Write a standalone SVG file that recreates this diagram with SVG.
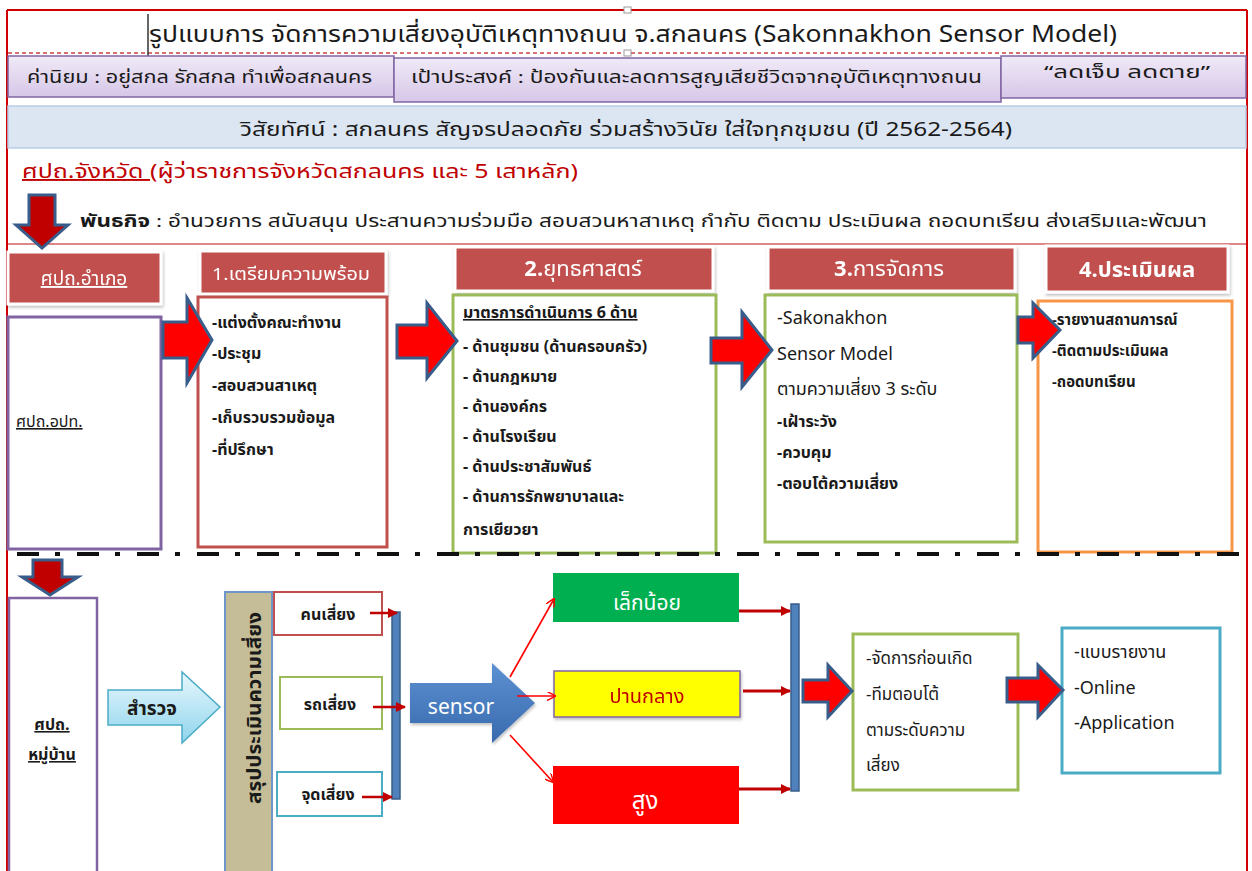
<svg xmlns="http://www.w3.org/2000/svg" width="1252" height="871" viewBox="0 0 1252 871">
<defs>
<style>
text{font-family:"Noto Sans Thai","Noto Sans","DejaVu Sans","Liberation Sans",sans-serif;fill:#1a1a1a}
.hdr{fill:#c0504d;stroke:#fff;stroke-width:3}
.ht{fill:#fff;text-anchor:middle}
.fat{fill:#ff0000;stroke:#385d8a;stroke-width:3;stroke-linejoin:miter}
.down{fill:#c00000;stroke:#385d8a;stroke-width:3}
.t16{font-size:16px}
.t17{font-size:17px}
.t18{font-size:18px}
.thin{stroke:#ff0000;stroke-width:1.6;fill:none}
.mid{stroke:#c00000;stroke-width:3;fill:none}
.bar{fill:#4f81bd;stroke:#385d8a;stroke-width:1.5}
</style>
<linearGradient id="purp" x1="0" y1="0" x2="0" y2="1"><stop offset="0" stop-color="#f0eaf7"/><stop offset="1" stop-color="#d6c6e8"/></linearGradient>
<linearGradient id="sky" x1="0" y1="0" x2="0" y2="1"><stop offset="0" stop-color="#e8f8fd"/><stop offset="1" stop-color="#8fd4ec"/></linearGradient>
<linearGradient id="blu" x1="0" y1="0" x2="0" y2="1"><stop offset="0" stop-color="#5d91d2"/><stop offset="1" stop-color="#386aae"/></linearGradient>
<filter id="sh" x="-10%" y="-10%" width="130%" height="140%"><feDropShadow dx="1" dy="2" stdDeviation="1.5" flood-color="#000" flood-opacity="0.25"/></filter>
<marker id="vh" viewBox="0 0 10 10" refX="9" refY="5" markerWidth="9" markerHeight="9" orient="auto" markerUnits="userSpaceOnUse"><path d="M0,0 L10,5 L0,10" fill="none" stroke="#ff0000" stroke-width="1.6"/></marker>
<marker id="th" viewBox="0 0 10 10" refX="9" refY="5" markerWidth="11" markerHeight="10" orient="auto" markerUnits="userSpaceOnUse"><path d="M0,0 L10,5 L0,10 Z" fill="#c00000"/></marker>
</defs>
<rect width="1252" height="871" fill="#fff"/>

<!-- outer frame -->
<g id="frame">
<line x1="7" y1="10" x2="1247" y2="10" stroke="#d00000" stroke-width="2"/>
<line x1="7" y1="10" x2="7" y2="871" stroke="#d00000" stroke-width="2"/>
<line x1="1247" y1="10" x2="1247" y2="871" stroke="#d00000" stroke-width="2"/>
<line x1="8" y1="244" x2="1246" y2="244" stroke="#d06060" stroke-width="1.5"/>
</g>

<g id="title">
<rect x="8" y="12" width="1238" height="41" fill="#fff"/>
<line x1="8" y1="53" x2="1246" y2="53" stroke="#d04040" stroke-width="1.5" stroke-dasharray="4 3"/>
<line x1="148" y1="14" x2="148" y2="58" stroke="#333" stroke-width="1.5"/>
<rect x="624" y="7" width="7" height="6" fill="#fff" stroke="#999"/>
<rect x="624" y="50" width="7" height="6" fill="#fff" stroke="#999"/>
<text x="149" y="42" font-size="23" textLength="968" lengthAdjust="spacingAndGlyphs">รูปแบบการ จัดการความเสี่ยงอุบัติเหตุทางถนน จ.สกลนคร (Sakonnakhon Sensor Model)</text>
</g>

<g id="values">
<rect x="8" y="56" width="386" height="41" fill="url(#purp)" stroke="#8064a2" stroke-width="1.5"/>
<text x="27" y="83" class="t17" textLength="345" lengthAdjust="spacingAndGlyphs" fill="#333">ค่านิยม : อยู่สกล รักสกล ทำเพื่อสกลนคร</text>
</g>
<g id="goal">
<rect x="394" y="58" width="607" height="44" fill="url(#purp)" stroke="#8064a2" stroke-width="1.5"/>
<text x="411" y="83" class="t17" textLength="571" lengthAdjust="spacingAndGlyphs" fill="#333">เป้าประสงค์ : ป้องกันและลดการสูญเสียชีวิตจากอุบัติเหตุทางถนน</text>
</g>
<g id="slogan">
<rect x="1001" y="56" width="245" height="42" fill="url(#purp)" stroke="#8064a2" stroke-width="1.5"/>
<text x="1127" y="78" class="t17" text-anchor="middle" textLength="166" lengthAdjust="spacingAndGlyphs" fill="#333">“ลดเจ็บ ลดตาย”</text>
</g>
<g id="vision">
<rect x="8" y="106" width="1238" height="42" fill="#dce6f2" stroke="#b9cde5" stroke-width="1.5"/>
<text x="240" y="136" font-size="19" textLength="772" lengthAdjust="spacingAndGlyphs" fill="#333">วิสัยทัศน์ : สกลนคร สัญจรปลอดภัย ร่วมสร้างวินัย ใส่ใจทุกชุมชน (ปี 2562-2564)</text>
</g>
<g id="province">
<text x="22" y="178" font-size="19" textLength="556" lengthAdjust="spacingAndGlyphs" fill="#c00000"><tspan text-decoration="underline" fill="#c00000">ศปถ.จังหวัด </tspan><tspan fill="#c00000">(ผู้ว่าราชการจังหวัดสกลนคร และ 5 เสาหลัก)</tspan></text>
</g>
<g id="mission">
<text x="80" y="227" class="t17" textLength="1127" lengthAdjust="spacingAndGlyphs"><tspan font-weight="bold">พันธกิจ</tspan> : อำนวยการ สนับสนุน ประสานความร่วมมือ สอบสวนหาสาเหตุ กำกับ ติดตาม ประเมินผล ถอดบทเรียน ส่งเสริมและพัฒนา</text>
</g>

<!-- column headers -->
<g id="amphoe-head" filter="url(#sh)">
<rect x="8" y="252" width="153" height="52" class="hdr"/>
<text x="84" y="285" font-size="19" class="ht" text-decoration="underline">ศปถ.อำเภอ</text>
</g>
<g id="h1" filter="url(#sh)">
<rect x="200" y="251" width="186" height="43" class="hdr"/>
<text x="291" y="280" class="ht t17" textLength="158" lengthAdjust="spacingAndGlyphs">1.เตรียมความพร้อม</text>
</g>
<g id="h2" filter="url(#sh)">
<rect x="455" y="247" width="258" height="44" class="hdr"/>
<text x="583" y="276" font-size="22" class="ht"><tspan font-weight="bold">2.</tspan>ยุทธศาสตร์</text>
</g>
<g id="h3" filter="url(#sh)">
<rect x="768" y="247" width="247" height="44" class="hdr"/>
<text x="889" y="276" font-size="22" class="ht"><tspan font-weight="bold">3.</tspan>การจัดการ</text>
</g>
<g id="h4" filter="url(#sh)">
<rect x="1046" y="246" width="182" height="46" class="hdr"/>
<text x="1137" y="277" font-size="22" class="ht" font-weight="bold">4.ประเมินผล</text>
</g>

<!-- content boxes -->
<g id="opt">
<rect x="8" y="317" width="153" height="232" fill="#fff" stroke="#8064a2" stroke-width="3"/>
<text x="16" y="427" class="t16" text-decoration="underline">ศปถ.อปท.</text>
</g>
<g id="c1">
<rect x="198" y="297" width="189" height="250" fill="#fff" stroke="#c0504d" stroke-width="3"/>
<text class="t16" font-weight="bold" fill="#222">
<tspan x="212" y="328">-แต่งตั้งคณะทำงาน</tspan>
<tspan x="212" y="359">-ประชุม</tspan>
<tspan x="212" y="391">-สอบสวนสาเหตุ</tspan>
<tspan x="212" y="423">-เก็บรวบรวมข้อมูล</tspan>
<tspan x="212" y="455">-ที่ปรึกษา</tspan>
</text>
</g>
<g id="c2">
<rect x="453" y="295" width="263" height="258" fill="#fff" stroke="#9bbb59" stroke-width="3"/>
<text class="t16" font-weight="bold" fill="#222">
<tspan x="463" y="318" text-decoration="underline">มาตรการดำเนินการ 6 ด้าน</tspan>
<tspan x="463" y="352">- ด้านชุมชน (ด้านครอบครัว)</tspan>
<tspan x="463" y="382">- ด้านกฎหมาย</tspan>
<tspan x="463" y="412">- ด้านองค์กร</tspan>
<tspan x="463" y="442">- ด้านโรงเรียน</tspan>
<tspan x="463" y="472">- ด้านประชาสัมพันธ์</tspan>
<tspan x="463" y="502">- ด้านการรักพยาบาลและ</tspan>
<tspan x="463" y="535">การเยียวยา</tspan>
</text>
</g>
<g id="c3">
<rect x="765" y="295" width="252" height="247" fill="#fff" stroke="#9bbb59" stroke-width="3"/>
<text class="t18" fill="#222">
<tspan x="777" y="324">-Sakonakhon</tspan>
<tspan x="777" y="360">Sensor Model</tspan>
<tspan x="777" y="395">ตามความเสี่ยง 3 ระดับ</tspan>
<tspan x="777" y="427" font-size="16" font-weight="bold">-เฝ้าระวัง</tspan>
<tspan x="777" y="458" font-size="16" font-weight="bold">-ควบคุม</tspan>
<tspan x="777" y="489" font-size="16" font-weight="bold">-ตอบโต้ความเสี่ยง</tspan>
</text>
</g>
<g id="c4">
<rect x="1038" y="301" width="194" height="251" fill="#fff" stroke="#f79646" stroke-width="3"/>
<text font-size="15" font-weight="bold" fill="#222">
<tspan x="1052" y="325">-รายงานสถานการณ์</tspan>
<tspan x="1052" y="356">-ติดตามประเมินผล</tspan>
<tspan x="1052" y="387">-ถอดบทเรียน</tspan>
</text>
</g>

<!-- divider -->
<line x1="17" y1="554" x2="1246" y2="554" stroke="#111" stroke-width="4" stroke-dasharray="22 16 5 17"/>

<!-- bottom nodes -->
<g id="village">
<rect x="9" y="598" width="88" height="280" fill="#fff" stroke="#8064a2" stroke-width="2.5"/>
<text x="52" y="730" class="t16" font-weight="bold" text-anchor="middle" text-decoration="underline">ศปถ.</text>
<text x="52" y="760" class="t16" font-weight="bold" text-anchor="middle" text-decoration="underline">หมู่บ้าน</text>
</g>
<g id="survey">
<path d="M108,690 L182,690 L182,672 L220,707 L182,743 L182,725 L108,725 Z" fill="url(#sky)" stroke="#4bacc6" stroke-width="1.5"/>
<text x="152" y="715" font-size="19" font-weight="bold" text-anchor="middle">สำรวจ</text>
</g>
<g id="summary">
<rect x="225" y="592" width="47" height="290" fill="#c4bd97" stroke="#6f96c8" stroke-width="2"/>
<text transform="translate(261,708) rotate(-90)" font-size="19" font-weight="bold" text-anchor="middle" fill="#333" textLength="192" lengthAdjust="spacingAndGlyphs">สรุปประเมินความเสี่ยง</text>
</g>
<g id="risk-person">
<rect x="274" y="592" width="108" height="43" fill="#fff" stroke="#c0504d" stroke-width="2"/>
<text x="328" y="620" class="t16" font-weight="bold" text-anchor="middle">คนเสี่ยง</text>
</g>
<g id="risk-vehicle">
<rect x="280" y="677" width="102" height="52" fill="#fff" stroke="#9bbb59" stroke-width="2"/>
<text x="330" y="710" class="t16" font-weight="bold" text-anchor="middle">รถเสี่ยง</text>
</g>
<g id="risk-spot">
<rect x="277" y="772" width="105" height="44" fill="#fff" stroke="#4bacc6" stroke-width="2"/>
<text x="328" y="800" class="t16" font-weight="bold" text-anchor="middle">จุดเสี่ยง</text>
</g>
<g id="bar1"><rect x="392" y="612" width="8" height="187" class="bar"/></g>
<g id="sensor">
<path d="M410,683 L492,683 L492,663 L535,703 L492,743 L492,723 L410,723 Z" fill="url(#blu)" filter="url(#sh)"/>
<text x="461" y="714" font-size="21" text-anchor="middle" style="fill:#fff">sensor</text>
</g>
<g id="low">
<rect x="553" y="573" width="186" height="49" fill="#00b050"/>
<text x="647" y="610" font-size="21" text-anchor="middle" style="fill:#fff">เล็กน้อย</text>
</g>
<g id="medium" filter="url(#sh)">
<rect x="554" y="671" width="186" height="46" fill="#ffff00" stroke="#8064a2" stroke-width="1.5"/>
<text x="647" y="703" font-size="20" text-anchor="middle" style="fill:#c00000">ปานกลาง</text>
</g>
<g id="high">
<rect x="553" y="766" width="186" height="58" fill="#ff0000"/>
<text x="645" y="809" font-size="24" text-anchor="middle" style="fill:#fff">สูง</text>
</g>
<g id="bar2"><rect x="791" y="604" width="8" height="187" class="bar"/></g>
<g id="response">
<rect x="853" y="634" width="165" height="156" fill="#fff" stroke="#9bbb59" stroke-width="3"/>
<text class="t17" fill="#222">
<tspan x="866" y="664">-จัดการก่อนเกิด</tspan>
<tspan x="866" y="700">-ทีมตอบโต้</tspan>
<tspan x="866" y="736">ตามระดับความ</tspan>
<tspan x="866" y="771">เสี่ยง</tspan>
</text>
</g>
<g id="report">
<rect x="1062" y="628" width="158" height="145" fill="#fff" stroke="#4bacc6" stroke-width="3"/>
<text class="t18" fill="#222">
<tspan x="1074" y="658">-แบบรายงาน</tspan>
<tspan x="1074" y="694">-Online</tspan>
<tspan x="1074" y="729">-Application</tspan>
</text>
</g>

<!-- connectors -->
<g id="connectors">
<path class="down" d="M29,195 L55,195 L55,225 L68,225 L42,248 L16,225 L29,225 Z"/>
<path class="fat" d="M163,322 L187,322 L187,298 L212,340 L187,383 L187,358 L163,358 Z"/>
<path class="fat" d="M397,325 L427,325 L427,303 L457,341 L427,378 L427,358 L397,358 Z"/>
<path class="fat" d="M711,338 L742,338 L742,312 L772,350 L742,387 L742,363 L711,363 Z"/>
<path class="fat" d="M1018,317 L1033,317 L1033,303 L1060,330 L1033,358 L1033,343 L1018,343 Z"/>
<path class="down" d="M33,560 L62,560 L62,577 L78,577 L50,595 L22,577 L33,577 Z"/>
<line x1="370" y1="613" x2="397" y2="613" stroke="#c00000" stroke-width="2.5" marker-end="url(#th)"/>
<line x1="373" y1="707" x2="405" y2="707" stroke="#c00000" stroke-width="2.5" marker-end="url(#th)"/>
<line x1="362" y1="797" x2="392" y2="797" stroke="#c00000" stroke-width="2.5" marker-end="url(#th)"/>
<line class="thin" x1="510" y1="677" x2="554" y2="599" marker-end="url(#vh)"/>
<line class="thin" x1="517" y1="696" x2="555" y2="696" marker-end="url(#vh)"/>
<line class="thin" x1="510" y1="735" x2="553" y2="782" marker-end="url(#vh)"/>
<line class="mid" x1="739" y1="611" x2="790" y2="611" marker-end="url(#th)"/>
<line class="mid" x1="743" y1="691" x2="790" y2="691" marker-end="url(#th)"/>
<line class="mid" x1="739" y1="789" x2="790" y2="789" marker-end="url(#th)"/>
<path class="fat" d="M803,680 L828,680 L828,665 L852,691 L828,717 L828,702 L803,702 Z"/>
<path class="fat" d="M1007,678 L1038,678 L1038,665 L1063,690 L1038,717 L1038,702 L1007,702 Z"/>
</g>
</svg>
